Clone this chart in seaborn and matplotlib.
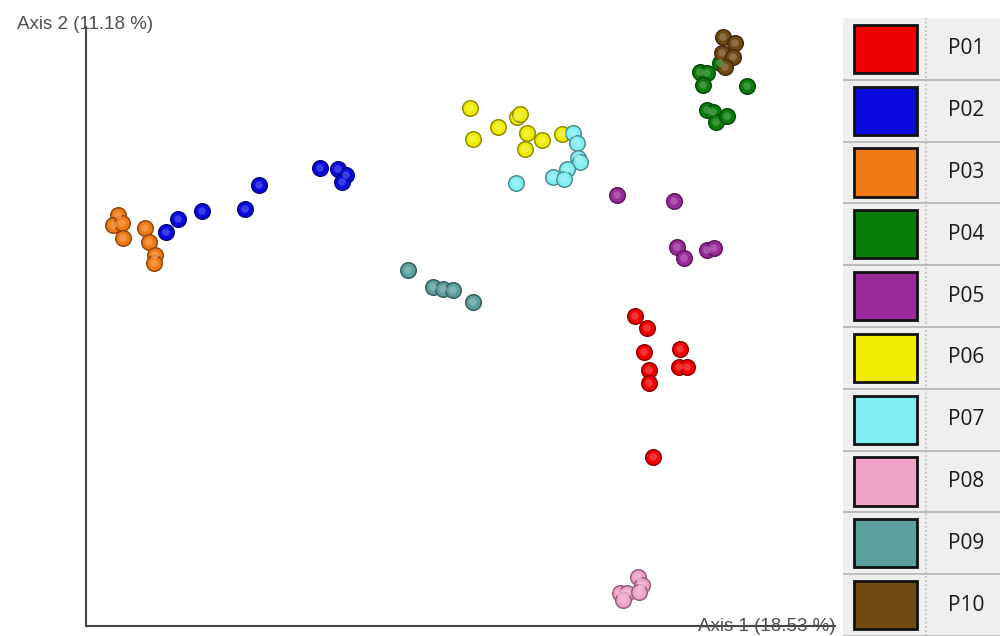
import numpy as np
import pandas as pd
import matplotlib.pyplot as plt
import matplotlib.colors as mcolors
from matplotlib.patches import Rectangle
import seaborn as sns

# ── data: PCoA coordinates per sample group ──
GROUPS = ["P01", "P02", "P03", "P04", "P05", "P06", "P07", "P08", "P09", "P10"]
COLORS = ["#f20000", "#0a0ae0", "#f07a12", "#087d08", "#9a2a9a",
          "#f0ec00", "#80eef2", "#f0a2c8", "#5b9f9f", "#6f4a12"]

p01_x = [0.175, 0.187, 0.184, 0.189, 0.189, 0.220, 0.219, 0.227, 0.193]
p01_y = [0.014, 0.002, -0.022, -0.040, -0.053, -0.019, -0.037, -0.037, -0.127]
p02_x = [-0.294, -0.282, -0.258, -0.215, -0.201, -0.140, -0.122, -0.114, -0.118]
p02_y = [0.098, 0.111, 0.119, 0.121, 0.145, 0.162, 0.161, 0.155, 0.148]
p03_x = [-0.342, -0.347, -0.338, -0.337, -0.315, -0.311, -0.305, -0.306]
p03_y = [0.115, 0.105, 0.107, 0.092, 0.102, 0.088, 0.075, 0.067]
p04_x = [0.240, 0.247, 0.243, 0.260, 0.287, 0.247, 0.253, 0.256, 0.267]
p04_y = [0.258, 0.257, 0.245, 0.267, 0.244, 0.220, 0.218, 0.208, 0.214]
p05_x = [0.157, 0.214, 0.217, 0.224, 0.247, 0.254]
p05_y = [0.135, 0.129, 0.083, 0.072, 0.080, 0.082]
p06_x = [0.010, 0.013, 0.038, 0.057, 0.060, 0.067, 0.065, 0.082, 0.102]
p06_y = [0.222, 0.191, 0.203, 0.213, 0.216, 0.197, 0.181, 0.190, 0.196]
p07_x = [0.113, 0.117, 0.118, 0.120, 0.107, 0.093, 0.104, 0.056]
p07_y = [0.197, 0.187, 0.172, 0.168, 0.161, 0.153, 0.151, 0.147]
p08_x = [0.160, 0.167, 0.163, 0.178, 0.182, 0.179]
p08_y = [-0.263, -0.263, -0.270, -0.247, -0.255, -0.262]
p09_x = [-0.052, -0.027, -0.017, -0.007, 0.013]
p09_y = [0.060, 0.043, 0.041, 0.040, 0.028]
p10_x = [0.263, 0.275, 0.262, 0.273, 0.265]
p10_y = [0.293, 0.287, 0.277, 0.273, 0.263]

AXIS1_LABEL = "Axis 1 (18.53 %)"
AXIS2_LABEL = "Axis 2 (11.18 %)"

xs = [p01_x, p02_x, p03_x, p04_x, p05_x, p06_x, p07_x, p08_x, p09_x, p10_x]
ys = [p01_y, p02_y, p03_y, p04_y, p05_y, p06_y, p07_y, p08_y, p09_y, p10_y]
df = pd.concat([pd.DataFrame({"x": x, "y": y, "group": g})
                for g, x, y in zip(GROUPS, xs, ys)], ignore_index=True)


def shade(c, f):
    r, g, b = mcolors.to_rgb(c)
    return (r * f, g * f, b * f)


def tint(c, f):
    r, g, b = mcolors.to_rgb(c)
    return (r + (1 - r) * f, g + (1 - g) * f, b + (1 - b) * f)


sns.set_style("white")
plt.rcParams["font.family"] = ["Liberation Sans", "DejaVu Sans"]

fig = plt.figure(figsize=(10, 6.36), dpi=100)
ax = fig.add_axes([0.086, 0.0157, 0.749, 0.9418])

# ── scatter: base sphere + dark rim, then a soft highlight ──
for g, c in zip(GROUPS, COLORS):
    sub = df[df["group"] == g]
    sns.scatterplot(data=sub, x="x", y="y", color=c, s=125,
                    edgecolor=shade(c, 0.6), linewidth=1.1, ax=ax,
                    legend=False, zorder=3)
    sns.scatterplot(data=sub, x="x", y="y", color=tint(c, 0.3), s=30,
                    edgecolor="none", linewidth=0, ax=ax,
                    legend=False, zorder=4, alpha=0.7)

ax.set_xlim(-0.374, 0.375)
ax.set_ylim(-0.296, 0.303)
ax.set_xticks([])
ax.set_yticks([])
ax.set_xlabel("")
ax.set_ylabel("")
for side in ["top", "right"]:
    ax.spines[side].set_visible(False)
for side in ["left", "bottom"]:
    ax.spines[side].set_color("#444444")
    ax.spines[side].set_linewidth(1.5)

fig.text(0.085, 0.962, AXIS2_LABEL, ha="center", va="center",
         fontsize=13.5, color="#505050")
fig.text(0.836, 0.0145, AXIS1_LABEL, ha="right", va="center",
         fontsize=13.5, color="#505050", zorder=0)

# ── legend panel ──
lax = fig.add_axes([0.843, 0.0, 0.157, (636 - 18) / 636])
lax.set_xlim(0, 157)
lax.set_ylim(len(GROUPS), 0)
lax.axis("off")
lax.add_patch(Rectangle((0, 0), 157, len(GROUPS), facecolor="#efefef",
                        edgecolor="none", zorder=0))
for i, (g, c) in enumerate(zip(GROUPS, COLORS)):
    lax.add_patch(Rectangle((11, i + 0.11), 63, 0.78, facecolor=c,
                            edgecolor="#111111", linewidth=2, zorder=2))
    lax.text(123, i + 0.5, g, ha="center", va="center", fontsize=15,
             color="#1a1a1a", family=["Open Sans", "DejaVu Sans"])
    lax.axhline(i + 1, color="#b4b4b4", linewidth=1.2, zorder=1)
lax.axvline(83, color="#b8b8b8", linewidth=1.2, linestyle=(0, (1, 1.5)))

fig.savefig("out.png", dpi=100)
